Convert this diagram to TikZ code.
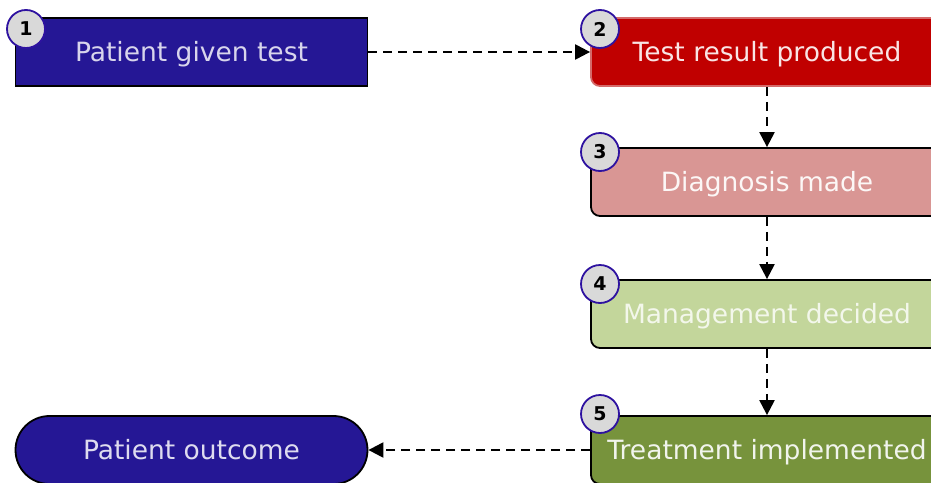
\documentclass[tikz,border=0pt]{standalone}
\usepackage{fontspec}
\setmainfont{DejaVu Sans}
\usetikzlibrary{arrows.meta,shapes.misc}
\definecolor{navy}{HTML}{251795}
\definecolor{darkred}{HTML}{C00000}
\definecolor{rededge}{HTML}{D46A6A}
\definecolor{rose}{HTML}{D99694}
\definecolor{sage}{HTML}{C3D69B}
\definecolor{olive}{HTML}{77933C}
\definecolor{badgefill}{HTML}{D9D9D9}
\definecolor{badgeedge}{HTML}{2E12A0}
\tikzset{
  x=1pt, y=-1pt,
  boxtext/.style={font=\fontsize{26.5}{30}\selectfont, text height=19pt, text depth=0pt},
  stepbox/.style={draw=black, line width=1.8pt, minimum width=352pt, minimum height=68pt,
    inner sep=0pt, boxtext},
  roundbox/.style={stepbox, rounded corners=9pt},
  badge/.style={circle, draw=badgeedge, fill=badgefill, line width=1.8pt, minimum size=38pt,
    inner sep=0pt, font=\fontsize{19}{22}\selectfont\bfseries},
  flow/.style={draw=black, line width=2.2pt, dash pattern=on 9pt off 6pt,
    -{Triangle[length=15pt,width=15pt]}}
}
\begin{document}
\begin{tikzpicture}
\useasboundingbox (0,0) rectangle (931,482);
% step boxes
\node[stepbox, fill=navy, text=white!82!navy] (test) at (191.5,52) {Patient given test};
\node[roundbox, fill=darkred, draw=rededge, text=white!90!darkred] (result) at (767,52) {Test result produced};
\node[roundbox, fill=rose, text=white!92!rose] (diag) at (767,182) {Diagnosis made};
\node[roundbox, fill=sage, text=white!80!sage] (mgmt) at (767,314) {Management decided};
\node[roundbox, fill=olive, text=white!90!olive] (treat) at (767,450) {Treatment implemented};
\node[rounded rectangle, draw=black, line width=1.8pt, fill=navy, text=white!85!navy,
  minimum width=352pt, minimum height=68pt, inner sep=0pt, boxtext] (outcome) at (191.5,450) {Patient outcome};
% numbered badges
\node[badge] (b1) at (26,29) {1};
\node[badge] (b2) at (600,29) {2};
\node[badge] (b3) at (600,152) {3};
\node[badge] (b4) at (600,284) {4};
\node[badge] (b5) at (600,414) {5};
% connectors
\draw[flow] (test.east) -- (result.west);
\draw[flow] (result.south) -- (diag.north);
\draw[flow] (diag.south) -- (mgmt.north);
\draw[flow] (mgmt.south) -- (treat.north);
\draw[flow] (treat.west) -- (outcome.east);
\end{tikzpicture}
\end{document}
